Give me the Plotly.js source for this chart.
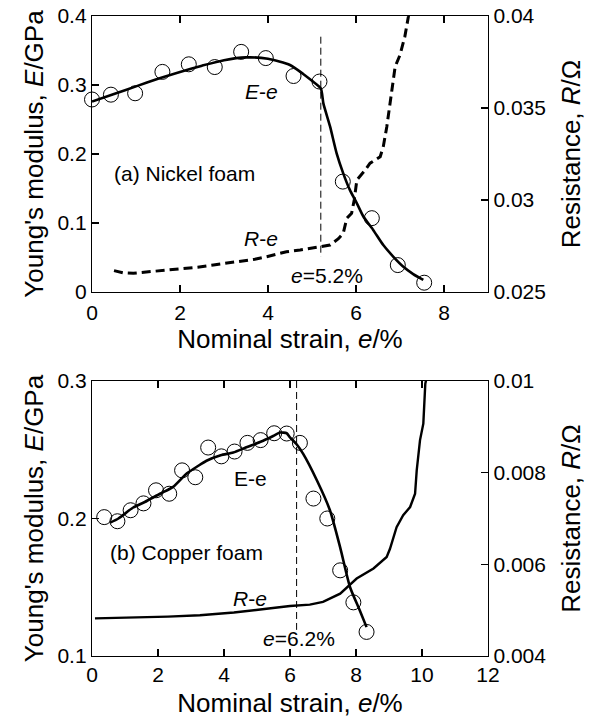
<!DOCTYPE html>
<html>
<head>
<meta charset="utf-8">
<script src="https://cdn.plot.ly/plotly-3.0.1.min.js"></script>
<style>html,body{margin:0;padding:0;background:#fff;}#chart{width:592px;height:719px;}</style>
</head>
<body>
<div id="chart"></div>
<script>
// ---------- (a) Nickel foam ----------
const niStrainPts = [0, 0.43, 0.98, 1.6, 2.2, 2.79, 3.39, 3.95, 4.58, 5.17, 5.70, 6.36, 6.95, 7.55];
const niModulusPts = [0.279, 0.286, 0.288, 0.319, 0.330, 0.326, 0.348, 0.339, 0.313, 0.305, 0.160, 0.107, 0.039, 0.0135];

const niFitStrain = [0, 0.5, 1.0, 1.5, 2.0, 2.5, 3.0, 3.5, 4.0, 4.5, 4.8, 5.0, 5.2, 5.26, 5.41, 5.56, 5.71, 5.86, 6.02, 6.17, 6.39, 6.62, 6.85, 7.07, 7.30, 7.53];
const niFitModulus = [0.276, 0.287, 0.298, 0.309, 0.319, 0.328, 0.336, 0.340, 0.338, 0.329, 0.316, 0.306, 0.295, 0.273, 0.240, 0.201, 0.172, 0.148, 0.1285, 0.109, 0.090, 0.068, 0.051, 0.037, 0.026, 0.0174];

const niResStrain = [0.5, 0.7, 0.94, 1.2, 1.5, 1.7, 2.0, 2.15, 2.4, 2.76, 3.0, 3.36, 3.7, 3.97, 4.2, 4.42, 4.73, 5.0, 5.18, 5.41, 5.6, 5.71, 5.79, 5.9, 5.96, 6.02, 6.2, 6.32, 6.55, 6.62, 6.7, 6.81, 6.89, 7.0, 7.11, 7.19, 7.22];
const niResistance = [0.02616, 0.02605, 0.02602, 0.02608, 0.02612, 0.0262, 0.02625, 0.02629, 0.02635, 0.02647, 0.02655, 0.02665, 0.02678, 0.02692, 0.02705, 0.02719, 0.02728, 0.02738, 0.02746, 0.02755, 0.0279, 0.02819, 0.029, 0.02928, 0.0300, 0.03109, 0.0316, 0.0320, 0.03235, 0.0329, 0.03398, 0.03598, 0.03725, 0.03788, 0.03888, 0.03996, 0.0405];

const niCritStrain = [5.2, 5.2];
const niCritModulus = [0.37, 0.051];

// ---------- (b) Copper foam ----------
const cuStrainPts = [0.37, 0.77, 1.17, 1.56, 1.94, 2.34, 2.73, 3.13, 3.52, 3.92, 4.32, 4.71, 5.11, 5.52, 5.9, 6.3, 6.71, 7.13, 7.52, 7.92, 8.32];
const cuModulusPts = [0.201, 0.198, 0.206, 0.211, 0.2205, 0.218, 0.235, 0.230, 0.2516, 0.2452, 0.2487, 0.255, 0.257, 0.262, 0.2618, 0.255, 0.2145, 0.200, 0.1623, 0.139, 0.1175];

const cuFitStrain = [0.55, 0.8, 1.25, 1.6, 2.06, 2.46, 2.87, 3.2, 3.47, 3.9, 4.28, 4.7, 5.09, 5.49, 5.7, 5.9, 6.0, 6.2, 6.4, 6.81, 7.21, 7.52, 7.82, 8.1, 8.32];
const cuFitModulus = [0.197, 0.200, 0.208, 0.212, 0.218, 0.223, 0.2327, 0.238, 0.242, 0.246, 0.248, 0.252, 0.2556, 0.260, 0.2625, 0.262, 0.259, 0.254, 0.247, 0.228, 0.206, 0.179, 0.150, 0.134, 0.121];

const cuResStrain = [0.09, 1.25, 2.3, 3.27, 4.3, 5.29, 6.0, 6.6, 7.0, 7.52, 8.02, 8.53, 8.93, 9.03, 9.23, 9.43, 9.64, 9.79, 9.84, 9.94, 10.04, 10.1, 10.15];
const cuResistance = [0.00482, 0.004835, 0.00486, 0.00489, 0.00495, 0.00503, 0.00509, 0.00512, 0.00518, 0.00536, 0.00569, 0.00591, 0.00616, 0.00634, 0.00681, 0.00707, 0.00725, 0.00754, 0.00805, 0.00871, 0.00907, 0.00994, 0.0101];

const cuCritStrain = [6.2, 6.2];
const cuCritModulus = [0.3, 0.119];

// ---------- tick labels ----------
const topXTicks = [0, 2, 4, 6, 8];
const topYTicks = [0, 0.1, 0.2, 0.3, 0.4];
const topYText = ['0', '0.1', '0.2', '0.3', '0.4'];
const topRTicks = [0.025, 0.03, 0.035, 0.04];
const topRText = ['0.025', '0.03', '0.035', '0.04'];
const botXTicks = [0, 2, 4, 6, 8, 10, 12];
const botYTicks = [0.1, 0.2, 0.3];
const botYText = ['0.1', '0.2', '0.3'];
const botRTicks = [0.004, 0.006, 0.008, 0.01];
const botRText = ['0.004', '0.006', '0.008', '0.01'];

const FONT = '"Liberation Sans", Arial, sans-serif';
const black = '#000';

const circ = {symbol: 'circle-open', size: 15, color: black, line: {width: 1, color: black}};

const traces = [
  {x: niFitStrain, y: niFitModulus, xaxis: 'x', yaxis: 'y', mode: 'lines', line: {color: black, width: 2.6, shape: 'spline', smoothing: 0.6}},
  {x: niStrainPts, y: niModulusPts, xaxis: 'x', yaxis: 'y', mode: 'markers', marker: circ, cliponaxis: false},
  {x: niCritStrain, y: niCritModulus, xaxis: 'x', yaxis: 'y', mode: 'lines', line: {color: black, width: 1, dash: '7px,4px'}},
  {x: niResStrain, y: niResistance, xaxis: 'x', yaxis: 'y2', mode: 'lines', line: {color: black, width: 3, dash: '9px,5px'}},

  {x: cuFitStrain, y: cuFitModulus, xaxis: 'x2', yaxis: 'y3', mode: 'lines', line: {color: black, width: 2.6, shape: 'spline', smoothing: 0.6}},
  {x: cuStrainPts, y: cuModulusPts, xaxis: 'x2', yaxis: 'y3', mode: 'markers', marker: circ, cliponaxis: false},
  {x: cuCritStrain, y: cuCritModulus, xaxis: 'x2', yaxis: 'y3', mode: 'lines', line: {color: black, width: 1, dash: '7px,4px'}},
  {x: cuResStrain, y: cuResistance, xaxis: 'x2', yaxis: 'y4', mode: 'lines', line: {color: black, width: 2.4}}
];

const tickFont = {family: FONT, size: 21, color: black};
const titleFont = {family: FONT, size: 26, color: black};
const annFont = {family: FONT, size: 21, color: black};

function axisBase(extra) {
  return Object.assign({
    showline: true, linecolor: black, linewidth: 1.2,
    ticks: 'inside', ticklen: 7, tickwidth: 1.2, tickcolor: black,
    showgrid: false, zeroline: false, tickfont: tickFont, fixedrange: true
  }, extra);
}

const layout = {
  width: 592, height: 719,
  margin: {l: 92, r: 104, t: 16, b: 63},
  paper_bgcolor: '#fff', plot_bgcolor: '#fff',
  showlegend: false,
  font: {family: FONT, color: black},
  xaxis: axisBase({domain: [0, 1], anchor: 'y', range: [0, 9], tickvals: topXTicks, mirror: 'ticks', ticklabelstandoff: 2,
    title: {text: 'Nominal strain, <i>e</i>/%', font: titleFont, standoff: 0}}),
  yaxis: axisBase({domain: [0.56875, 1], anchor: 'x', range: [0, 0.4], tickvals: topYTicks, ticktext: topYText, mirror: true,
    title: {text: "Young's modulus, <i>E</i>/GPa", font: titleFont, standoff: 6}}),
  yaxis2: axisBase({overlaying: 'y', anchor: 'x', side: 'right', range: [0.025, 0.04], tickvals: topRTicks, ticktext: topRText,
    title: {text: 'Resistance, <i>R</i>/Ω', font: titleFont, standoff: 16}}),
  xaxis2: axisBase({domain: [0, 1], anchor: 'y3', range: [0, 12], tickvals: botXTicks, mirror: 'ticks',
    title: {text: 'Nominal strain, <i>e</i>/%', font: titleFont, standoff: 8}}),
  yaxis3: axisBase({domain: [0, 0.4297], anchor: 'x2', range: [0.1, 0.3], tickvals: botYTicks, ticktext: botYText, mirror: true,
    title: {text: "Young's modulus, <i>E</i>/GPa", font: titleFont, standoff: 6}}),
  yaxis4: axisBase({overlaying: 'y3', anchor: 'x2', side: 'right', range: [0.004, 0.01], tickvals: botRTicks, ticktext: botRText,
    title: {text: 'Resistance, <i>R</i>/Ω', font: titleFont, standoff: 16}}),
  annotations: [
    {xref: 'x', yref: 'y', x: 3.86, y: 0.29, text: '<i>E</i>-<i>e</i>', showarrow: false, font: annFont},
    {xref: 'x', yref: 'y', x: 2.11, y: 0.172, text: '(a) Nickel foam', showarrow: false, font: annFont},
    {xref: 'x', yref: 'y', x: 3.85, y: 0.0775, text: '<i>R</i>-<i>e</i>', showarrow: false, font: annFont},
    {xref: 'x', yref: 'y', x: 5.33, y: 0.024, text: '<i>e</i>=5.2%', showarrow: false, font: annFont},
    {xref: 'x2', yref: 'y3', x: 4.79, y: 0.229, text: 'E-e', showarrow: false, font: annFont},
    {xref: 'x2', yref: 'y3', x: 2.85, y: 0.175, text: '(b) Copper foam', showarrow: false, font: annFont},
    {xref: 'x2', yref: 'y3', x: 4.8, y: 0.1416, text: '<i>R</i>-<i>e</i>', showarrow: false, font: annFont},
    {xref: 'x2', yref: 'y3', x: 6.27, y: 0.1125, text: '<i>e</i>=6.2%', showarrow: false, font: annFont}
  ]
};

Plotly.newPlot('chart', traces, layout, {displayModeBar: false, staticPlot: true});
</script>
</body>
</html>
